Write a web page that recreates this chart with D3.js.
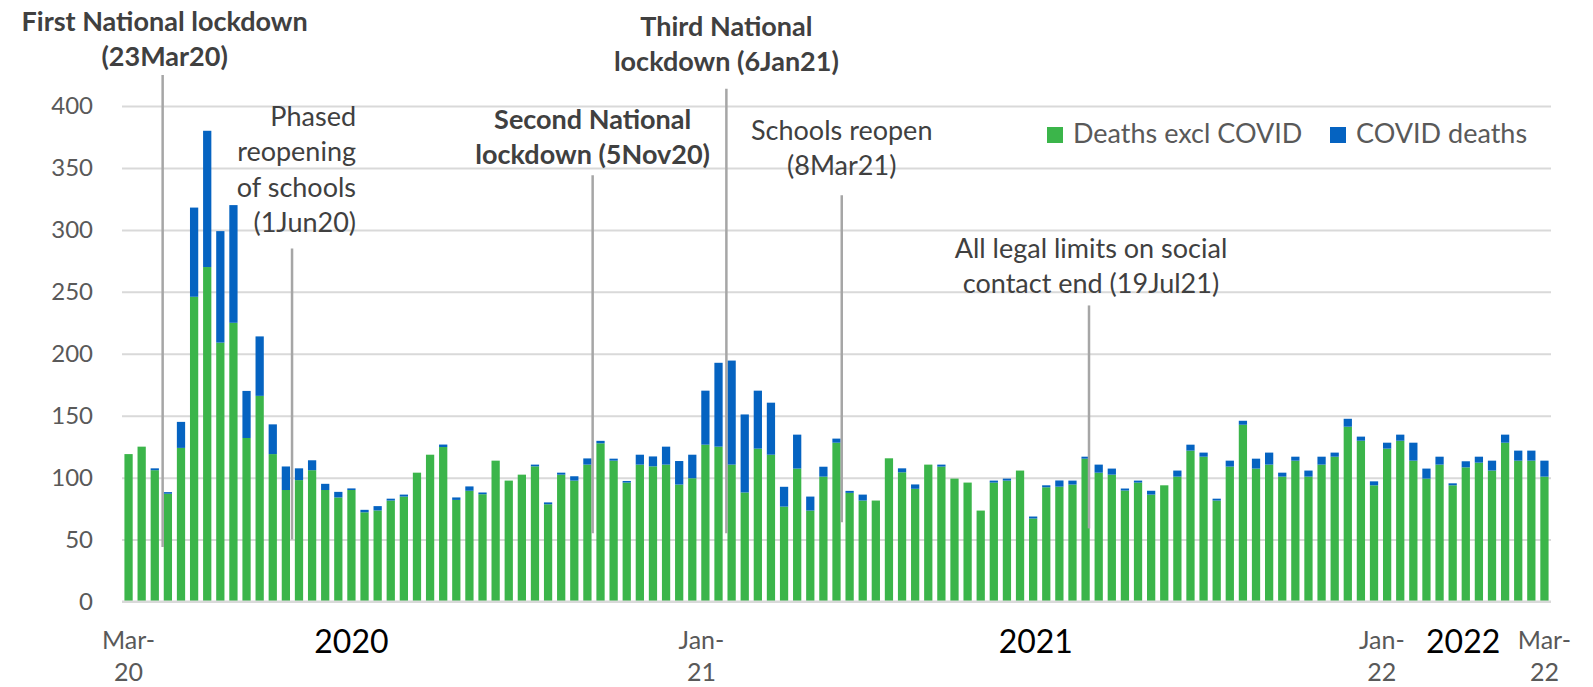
<!DOCTYPE html>
<html>
<head>
<meta charset="utf-8">
<script src="https://cdn.jsdelivr.net/npm/d3@7"></script>
<style>
  body { margin: 0; background: #ffffff; }
  svg { display: block; }
  text { font-family: Lato, "Open Sans", "DejaVu Sans", sans-serif; }
</style>
</head>
<body>
<svg id="chart" width="1593" height="687"></svg>
<script>
// Weekly deaths, March 2020 to March 2022
const deathsExclCovid = [
  119, 125, 106, 87, 124, 246, 270, 209, 225, 132,
  166, 119, 90, 98, 106, 90, 84, 90, 72, 73.5,
  81.5, 84.7, 104, 118.5, 124.7, 82, 89.4, 86.6, 113.7, 97.6,
  102.4, 109.1, 78.5, 102.4, 97.6, 110.5, 127.7, 113.7, 96, 110.5,
  109.1, 110.5, 94.4, 99.5, 126.6, 125, 110.5, 88, 123.4, 118.5,
  76.6, 107.3, 73.4, 100.8, 128.2, 87.7, 81.5, 81.5, 115.6, 104.3,
  91, 110.5, 108.9, 99.2, 96, 73.4, 96, 97.6, 105.7, 67,
  92.2, 92.7, 94.4, 115.3, 104, 102.4, 89.6, 96, 86.3, 93.8,
  100.8, 121.8, 116.9, 81.5, 108.9, 142.7, 107.3, 110.5, 100.8, 113.7,
  100.8, 110.5, 116.9, 141.1, 129.8, 93.8, 123.4, 129.8, 113.7, 99.2,
  110.5, 93.8, 108.3, 112.1, 105.7, 128.2, 113.7, 113.7, 100.8
];
const covidDeaths = [
  0, 0, 1.5, 1.3, 21, 72, 110, 90, 95, 38,
  48, 24, 19, 9.5, 8, 5, 4.5, 1.3, 2, 3.5,
  1.5, 1.6, 0, 0, 2, 2, 3.5, 1.4, 0, 0,
  0, 1.4, 1.5, 1.6, 3.5, 5, 2, 1.6, 1.3, 8,
  8, 14.5, 19, 19, 43.6, 67.7, 84, 63, 46.8, 42,
  16, 27.4, 11.3, 8, 3.3, 1.6, 4.8, 0, 0, 3.2,
  3.5, 0, 1.6, 0, 0, 0, 1.6, 1.6, 0, 1.6,
  1.6, 5, 3.2, 1.6, 6.5, 4.9, 1.6, 1.6, 3.1, 0,
  4.9, 4.8, 3.3, 1.5, 4.8, 3.2, 8, 9.7, 3.2, 3.2,
  4.9, 6.4, 3.3, 6.4, 3.3, 3.2, 4.8, 4.9, 14.5, 8.1,
  6.4, 1.6, 4.9, 4.8, 8, 6.5, 8.1, 8.1, 12.9
];
// One category per week (week number from the start of the series)
const weeks = d3.range(deathsExclCovid.length);

const seriesNames = ["Deaths excl COVID", "COVID deaths"];
const seriesColors = ["#3bb54a", "#0563c1"];

const yTicks = [0, 50, 100, 150, 200, 250, 300, 350, 400];
const xTickLabels = [["Mar-", "20"], ["Jan-", "21"], ["Jan-", "22"], ["Mar-", "22"]];
const xTickWeeks = [0, 43.7, 95.6, 108];
const yearLabels = ["2020", "2021", "2022"];
const yearWeeks = [17.0, 69.2, 101.8];

// Policy milestones: week position, leader line extent and label baseline (in deaths units)
const milestones = [
  { lines: ["First National lockdown", "(23Mar20)"], week: 2.6, top: 425, bottom: 44, labelAt: 432, bold: true, anchor: "middle", dx: 2 },
  { lines: ["Phased", "reopening", "of schools", "(1Jun20)"], week: 12.47, top: 285, bottom: 50, labelAt: 298, bold: false, anchor: "end", dx: 64 },
  { lines: ["Second National", "lockdown (5Nov20)"], week: 35.4, top: 344, bottom: 55, labelAt: 353, bold: true, anchor: "middle", dx: 0 },
  { lines: ["Third National", "lockdown (6Jan21)"], week: 45.6, top: 414, bottom: 55, labelAt: 428, bold: true, anchor: "middle", dx: 0 },
  { lines: ["Schools reopen", "(8Mar21)"], week: 54.4, top: 328, bottom: 64, labelAt: 344, bold: false, anchor: "middle", dx: 0 },
  { lines: ["All legal limits on social", "contact end (19Jul21)"], week: 73.26, top: 239, bottom: 59, labelAt: 249, bold: false, anchor: "middle", dx: 2 }
];

const plot = { left: 122, right: 1551, top: 106, bottom: 601.5 };

const svg = d3.select("#chart");

const x = d3.scaleBand()
  .domain(weeks)
  .range([plot.left, plot.right])
  .paddingInner(0.37)
  .paddingOuter(0.185);

const y = d3.scaleLinear()
  .domain([0, 400])
  .range([plot.bottom, plot.top]);

// position of a (possibly fractional) week on the x axis
const xAt = w => x(0) + x.bandwidth() / 2 + w * x.step();

// Gridlines and value labels
const yAxis = d3.axisLeft(y)
  .tickValues(yTicks)
  .tickSize(-(plot.right - plot.left))
  .tickPadding(29);

const gy = svg.append("g")
  .attr("transform", `translate(${plot.left},0)`)
  .call(yAxis);
gy.select(".domain").remove();
gy.selectAll(".tick line").attr("stroke", "#d9d9d9").attr("stroke-width", 2);
gy.selectAll(".tick text")
  .attr("fill", "#595959")
  .style("font-size", "24px")
  .style("font-family", "Lato, 'Open Sans', sans-serif");

// Stacked bars
const table = weeks.map(i => ({ week: i, excl: deathsExclCovid[i], covid: covidDeaths[i] }));
const layers = d3.stack().keys(["excl", "covid"])(table);

svg.append("g")
  .selectAll("g")
  .data(layers)
  .join("g")
  .attr("fill", (d, i) => seriesColors[i])
  .selectAll("rect")
  .data(d => d)
  .join("rect")
  .attr("x", d => x(d.data.week))
  .attr("width", x.bandwidth())
  .attr("y", d => y(d[1]))
  .attr("height", d => Math.max(0, y(d[0]) - y(d[1])));

// Baseline
svg.append("line")
  .attr("x1", plot.left).attr("x2", plot.right)
  .attr("y1", y(0)).attr("y2", y(0))
  .attr("stroke", "#d9d9d9").attr("stroke-width", 2);

// Milestone leader lines
svg.append("g")
  .selectAll("line")
  .data(milestones)
  .join("line")
  .attr("x1", d => xAt(d.week)).attr("x2", d => xAt(d.week))
  .attr("y1", d => y(d.top)).attr("y2", d => y(d.bottom))
  .attr("stroke", "#a6a6a6")
  .attr("stroke-width", 2.5);

// Milestone labels
const lineGap = 35.5;
const ml = svg.append("g")
  .selectAll("text")
  .data(milestones)
  .join("text")
  .attr("text-anchor", d => d.anchor)
  .attr("fill", "#404040")
  .style("font-size", "27px")
  .style("font-weight", d => d.bold ? 700 : 400);
ml.each(function (d) {
  const t = d3.select(this);
  const n = d.lines.length;
  d.lines.forEach((s, k) => {
    t.append("tspan")
      .attr("x", xAt(d.week) + d.dx)
      .attr("y", y(d.labelAt) - (n - 1 - k) * lineGap)
      .text(s);
  });
});

// Legend
const legendX = [1047, 1330];
const legend = svg.append("g")
  .selectAll("g")
  .data(seriesNames)
  .join("g")
  .attr("transform", (d, i) => `translate(${legendX[i]},127)`);
legend.append("rect")
  .attr("width", 16).attr("height", 16)
  .attr("fill", (d, i) => seriesColors[i]);
legend.append("text")
  .attr("x", 26).attr("y", 16)
  .attr("fill", "#595959")
  .style("font-size", "27px")
  .text(d => d);

// Month labels under the axis
const xt = svg.append("g")
  .selectAll("text")
  .data(xTickLabels)
  .join("text")
  .attr("text-anchor", "middle")
  .attr("fill", "#595959")
  .style("font-size", "25px");
xt.each(function (d, i) {
  const t = d3.select(this);
  d.forEach((s, k) => {
    t.append("tspan")
      .attr("x", xAt(xTickWeeks[i]))
      .attr("y", 649 + k * 32)
      .text(s);
  });
});

// Year labels
svg.append("g")
  .selectAll("text")
  .data(yearLabels)
  .join("text")
  .attr("x", (d, i) => xAt(yearWeeks[i]))
  .attr("y", 653)
  .attr("text-anchor", "middle")
  .attr("fill", "#000000")
  .style("font-size", "32px")
  .text(d => d);
</script>
</body>
</html>
